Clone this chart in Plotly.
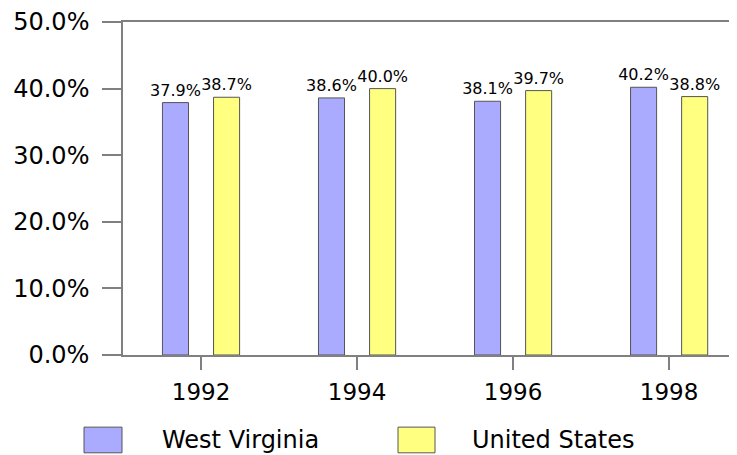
import plotly.graph_objects as go

# ---- data ----
years = [1992, 1994, 1996, 1998]
series_names = ["West Virginia", "United States"]
wv_values = [37.9, 38.6, 38.1, 40.2]
us_values = [38.7, 40.0, 39.7, 38.8]
y_tick_vals = [0, 10, 20, 30, 40, 50]
y_tick_text = ["0.0%", "10.0%", "20.0%", "30.0%", "40.0%", "50.0%"]

colors = ["#AAAAFF", "#FFFF80"]
FONT = "DejaVu Sans"

# page is offset by the default 8px body margin; compensate
OFF = 8
PAGE_W, PAGE_H = 737, 455
W, H = PAGE_W - OFF, PAGE_H - OFF
PLOT_L, PLOT_T, PLOT_B = 123, 18, 355  # page pixels
ML, MR, MT = PLOT_L - OFF, 0, PLOT_T - OFF
MB = PAGE_H - PLOT_B
PW, PH = W - ML - MR, H - MT - MB


def px_x(px):
    return (px - PLOT_L) / PW


def px_y(py):
    return (PLOT_B - py) / PH


fig = go.Figure()
for name, vals, col in zip(series_names, [wv_values, us_values], colors):
    fig.add_trace(go.Bar(
        x=years, y=vals, name=name,
        marker=dict(color=col, line=dict(color="#555555", width=1)),
        text=[f"{v:.1f}%" for v in vals],
        textposition="outside",
        constraintext="none",
        textfont=dict(family=FONT, size=16, color="black"),
        cliponaxis=False,
        showlegend=False,
    ))

# custom legend (large swatches as in the reference)
legend_items = [
    (series_names[0], colors[0], 84, 122, 160),
    (series_names[1], colors[1], 398, 435, 470),
]
for name, col, bx0, bx1, tx in legend_items:
    fig.add_shape(type="rect", xref="paper", yref="paper",
                  x0=px_x(bx0), x1=px_x(bx1), y0=px_y(454), y1=px_y(428),
                  fillcolor=col, line=dict(color="#555555", width=1))
    fig.add_annotation(xref="paper", yref="paper", x=px_x(tx), y=px_y(441),
                       text=name, showarrow=False, xanchor="left", yanchor="middle",
                       font=dict(family=FONT, size=24, color="black"))

fig.update_layout(
    width=W, height=H,
    margin=dict(l=ML, r=MR, t=MT, b=MB, pad=0),
    paper_bgcolor="white", plot_bgcolor="white",
    barmode="group", bargap=0.345, bargroupgap=0.49,
    font=dict(family=FONT, color="black"),
)
fig.update_xaxes(
    range=[1991.0, 1998.87],
    tickvals=years, ticktext=[str(y) for y in years],
    showgrid=False, zeroline=False,
    showline=True, linecolor="#808080", linewidth=1.5, mirror=True,
    ticks="outside", ticklen=13, tickcolor="#808080", tickwidth=1.5,
    tickfont=dict(family=FONT, size=23, color="black"),
    ticklabelstandoff=3,
)
fig.update_yaxes(
    range=[0, 50],
    tickvals=y_tick_vals, ticktext=y_tick_text,
    showgrid=False, zeroline=False,
    showline=True, linecolor="#808080", linewidth=1.5,
    ticks="outside", ticklen=19, tickcolor="#808080", tickwidth=1.5,
    tickfont=dict(family=FONT, size=24, color="black"),
    ticklabelstandoff=8,
    ticklabeloverflow="allow",
)

fig.write_html("out.html")
